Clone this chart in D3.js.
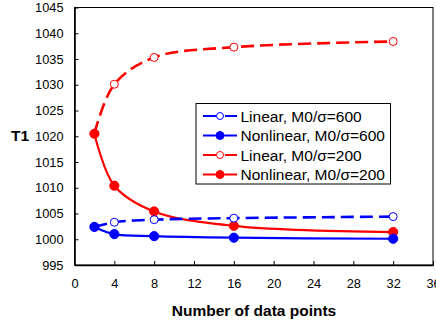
<!DOCTYPE html>
<html>
<head>
<meta charset="utf-8">
<script src="https://cdn.jsdelivr.net/npm/d3@7"></script>
<style>
  html, body { margin: 0; padding: 0; background: #fff; }
  svg { display: block; font-family: "Liberation Sans", Arial, sans-serif; }
</style>
</head>
<body>
<svg id="chart" width="436" height="320"></svg>
<script>
// data
const nPoints = [2, 4, 8, 16, 32];
const linear600 = [1002.4, 1003.3, 1003.8, 1004.1, 1004.4];
const nonlinear600 = [1002.4, 1001.0, 1000.6, 1000.3, 1000.1];
const linear200 = [1020.5, 1030.1, 1035.3, 1037.3, 1038.4];
const nonlinear200 = [1020.5, 1010.4, 1005.4, 1002.6, 1001.4];
const xTicks = [0, 4, 8, 12, 16, 20, 24, 28, 32, 36];
const yTicks = [995, 1000, 1005, 1010, 1015, 1020, 1025, 1030, 1035, 1040, 1045];

const series = [
    {name: 'Linear, M0/\u03c3=600', color: '#0000ff', dashed: true, values: linear600},
    {name: 'Nonlinear, M0/\u03c3=600', color: '#0000ff', dashed: false, values: nonlinear600},
    {name: 'Linear, M0/\u03c3=200', color: '#ff0000', dashed: true, values: linear200},
    {name: 'Nonlinear, M0/\u03c3=200', color: '#ff0000', dashed: false, values: nonlinear200},
];

const svg = d3.select('#chart');
const plot = {left: 74.5, right: 433, top: 7.5, bottom: 265};

const x = d3.scaleLinear().domain([0, 36]).range([plot.left, plot.right]);
const y = d3.scaleLinear().domain([995, 1045]).range([plot.bottom, plot.top]);

// plot frame (thin top/right)
svg.append('rect')
    .attr('x', plot.left).attr('y', plot.top)
    .attr('width', plot.right - plot.left).attr('height', plot.bottom - plot.top)
    .attr('fill', 'none').attr('stroke', '#000').attr('stroke-width', 1);

// axes, ticks pointing inward
const xAxis = svg.append('g')
    .attr('transform', `translate(0,${plot.bottom})`)
    .call(d3.axisBottom(x).tickValues(xTicks).tickFormat(d3.format('d'))
        .tickSizeInner(-4).tickSizeOuter(0).tickPadding(14));
const yAxis = svg.append('g')
    .attr('transform', `translate(${plot.left},0)`)
    .call(d3.axisLeft(y).tickValues(yTicks).tickFormat(d3.format('d'))
        .tickSizeInner(-4).tickSizeOuter(0).tickPadding(11));

[xAxis, yAxis].forEach(a => {
    a.select('.domain').attr('stroke', '#000').attr('stroke-width', 1.6);
    a.selectAll('.tick line').attr('stroke', '#000').attr('stroke-width', 1);
    a.selectAll('.tick text')
        .attr('fill', '#000')
        .style('font-size', '12.8px')
        .style('font-family', '"Liberation Sans", Arial, sans-serif');
});
// the first ticks sit on the other axis; drop their lines
yAxis.selectAll('.tick').filter(d => d === 995).select('line').remove();
xAxis.selectAll('.tick').filter(d => d === 0).select('line').remove();

// axis titles
svg.append('text')
    .attr('x', 254).attr('y', 316)
    .attr('text-anchor', 'middle')
    .attr('font-weight', 'bold').attr('font-size', 15.5)
    .text('Number of data points');
svg.append('text')
    .attr('x', 20).attr('y', 141)
    .attr('text-anchor', 'middle')
    .attr('font-weight', 'bold').attr('font-size', 15.5)
    .text('T1');

// lines
const line = d3.line()
    .x(d => x(d[0]))
    .y(d => y(d[1]))
    .curve(d3.curveCatmullRom.alpha(0.5));

const drawOrder = [2, 3, 0, 1];
drawOrder.forEach(i => {
    const s = series[i];
    const pts = nPoints.map((n, k) => [n, s.values[k]]);
    const g = svg.append('g');
    g.append('path')
        .datum(pts)
        .attr('d', line)
        .attr('fill', 'none')
        .attr('stroke', s.color)
        .attr('stroke-width', s.dashed ? 2.6 : 2.2)
        .attr('stroke-dasharray', s.dashed ? '13,6' : null);
    g.selectAll('circle')
        .data(pts)
        .enter()
        .append('circle')
        .attr('cx', d => x(d[0]))
        .attr('cy', d => y(d[1]))
        .attr('r', s.dashed ? 4 : 4.6)
        .attr('fill', s.dashed ? '#fff' : s.color)
        .attr('stroke', s.color)
        .attr('stroke-width', 1);
});

// legend
const legend = svg.append('g');
legend.append('rect')
    .attr('x', 196).attr('y', 103.5)
    .attr('width', 194.5).attr('height', 80.5)
    .attr('fill', '#fff').attr('stroke', '#000').attr('stroke-width', 1);

series.forEach((s, i) => {
    const cy = 116 + i * 19.5;
    const row = legend.append('g');
    if (s.dashed) {
        row.append('line').attr('x1', 203).attr('x2', 216).attr('y1', cy).attr('y2', cy)
            .attr('stroke', s.color).attr('stroke-width', 2);
        row.append('line').attr('x1', 225).attr('x2', 237).attr('y1', cy).attr('y2', cy)
            .attr('stroke', s.color).attr('stroke-width', 2);
    } else {
        row.append('line').attr('x1', 203).attr('x2', 237).attr('y1', cy).attr('y2', cy)
            .attr('stroke', s.color).attr('stroke-width', 2);
    }
    row.append('circle')
        .attr('cx', 220).attr('cy', cy)
        .attr('r', s.dashed ? 3.5 : 4)
        .attr('fill', s.dashed ? '#fff' : s.color)
        .attr('stroke', s.color).attr('stroke-width', 1);
    row.append('text')
        .attr('x', 240.5).attr('y', cy + 5.5)
        .attr('font-size', 15.5)
        .text(s.name);
});
</script>
</body>
</html>
